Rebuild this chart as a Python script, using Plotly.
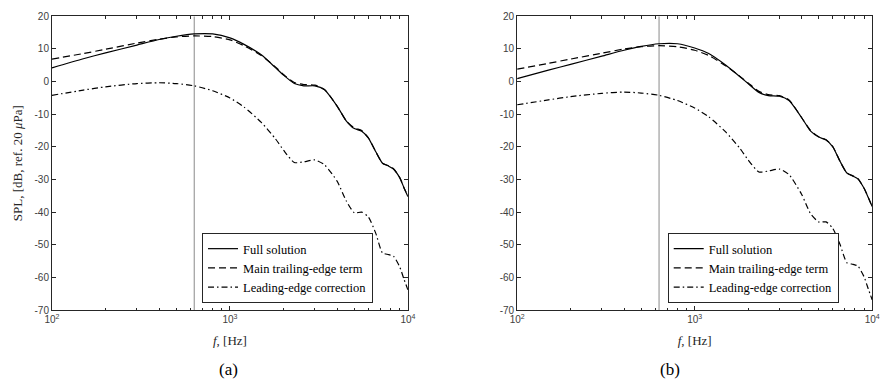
import plotly.graph_objects as go

# frequency grid (Hz), shared by all curves
FREQ = [100, 150, 200, 300, 400, 500, 630, 800, 1000, 1200, 1500, 1800, 2000, 2300,
        2600, 3000, 3400, 4000, 4500, 5000, 5500, 6000, 6600, 7200, 7800, 8300, 9000,
        9500, 10000]

# panel (a)
A_FULL = [4.2, 7.0, 8.8, 11.2, 12.9, 13.9, 14.6, 14.6, 13.4, 11.4, 8.2, 4.3, 2.0, -0.6,
          -1.3, -1.3, -2.5, -7.5, -12.0, -14.4, -15.2, -17.3, -21.5, -25.0, -25.9, -26.8,
          -29.5, -32.5, -35.2]
A_MAIN = [6.9, 8.6, 9.9, 11.8, 13.0, 13.7, 14.0, 13.8, 12.8, 11.0, 8.0, 4.5, 2.2, -0.3,
          -0.9, -1.1, -2.4, -7.5, -12.0, -14.2, -15.0, -17.2, -21.5, -25.0, -25.8, -26.7,
          -29.4, -32.5, -35.2]
A_LE = [-4.2, -2.6, -1.6, -0.6, -0.35, -0.6, -1.3, -2.8, -5.0, -7.8, -12.5, -17.5, -21.0,
        -24.8, -24.6, -24.0, -25.5, -30.5, -36.5, -40.2, -40.0, -41.5, -46.5, -52.5, -53.0,
        -53.5, -56.8, -60.5, -63.8]

# panel (b)
B_FULL = [0.9, 3.5, 5.3, 7.8, 9.6, 10.8, 11.6, 11.6, 10.3, 8.6, 5.0, 1.5, -0.6, -3.3,
          -4.3, -4.5, -5.8, -11.0, -15.2, -17.0, -17.9, -20.0, -24.5, -28.0, -29.0, -29.8,
          -32.7, -35.5, -38.3]
B_MAIN = [3.8, 5.6, 6.9, 8.7, 10.0, 10.7, 11.0, 10.7, 9.6, 8.0, 4.8, 1.6, -0.4, -3.0,
          -4.0, -4.3, -5.6, -11.0, -15.0, -16.9, -17.8, -19.9, -24.5, -28.0, -28.9, -29.7,
          -32.7, -35.5, -38.3]
B_LE = [-7.1, -5.6, -4.6, -3.6, -3.2, -3.5, -4.2, -5.8, -8.1, -10.8, -15.5, -20.5, -24.0,
        -27.7, -27.4, -26.8, -28.5, -34.5, -40.5, -43.0, -43.0, -45.0, -50.0, -55.5, -56.0,
        -56.5, -59.8, -63.5, -66.9]

MARKER_FREQ = 630  # vertical reference line
Y_RANGE = [-70, 20]

X_TICKS = [100, 1000, 10000]
X_TICKTEXT = ["10<sup>2</sup>", "10<sup>3</sup>", "10<sup>4</sup>"]
X_MINOR = [200, 300, 400, 500, 600, 700, 800, 900,
           2000, 3000, 4000, 5000, 6000, 7000, 8000, 9000]
Y_TICKS = [20, 10, 0, -10, -20, -30, -40, -50, -60, -70]

NAMES = ["Full solution", "Main trailing-edge term", "Leading-edge correction"]
DASHES = ["solid", "7px,4px", "6px,3px,1.5px,3px"]

SERIF = "Liberation Serif"
SANS = "Liberation Sans"
AX = "#262626"

panels = [
    ("x", "y", "legend", [A_FULL, A_MAIN, A_LE]),
    ("x2", "y2", "legend2", [B_FULL, B_MAIN, B_LE]),
]

fig = go.Figure()
for xa, ya, leg, series in panels:
    fig.add_trace(go.Scatter(
        x=[MARKER_FREQ, MARKER_FREQ], y=Y_RANGE, xaxis=xa, yaxis=ya,
        mode="lines", line=dict(color="#8a8a8a", width=1), showlegend=False,
        hoverinfo="skip",
    ))
    for name, dash, vals in zip(NAMES, DASHES, series):
        fig.add_trace(go.Scatter(
            x=FREQ, y=vals, name=name, xaxis=xa, yaxis=ya, legend=leg,
            mode="lines", line=dict(color="black", width=1.2, dash=dash, shape="spline",
                                    smoothing=0.6),
        ))

xcommon = dict(
    type="log", range=[2, 4], tickvals=X_TICKS, ticktext=X_TICKTEXT,
    ticks="inside", ticklen=4, tickcolor=AX, showline=True, linecolor=AX, linewidth=1,
    mirror="ticks", showgrid=False, zeroline=False, automargin=False,
    tickfont=dict(family=SANS, size=10, color="#404040"),
    minor=dict(tickvals=X_MINOR, ticks="inside", ticklen=2.5, tickcolor=AX, showgrid=False),
    title=dict(text="<i>f</i>, [Hz]", font=dict(family=SERIF, size=13, color=AX), standoff=11),
)
ycommon = dict(
    range=Y_RANGE, tickvals=Y_TICKS, ticktext=[str(v) for v in Y_TICKS],
    ticks="inside", ticklen=4, tickcolor=AX, showline=True, linecolor=AX, linewidth=1,
    mirror="ticks", showgrid=False, zeroline=False, automargin=False,
    tickfont=dict(family=SANS, size=10, color="#404040"),
)

legend_style = dict(xanchor="right", yanchor="bottom", y=0.221,
                    bgcolor="white", bordercolor=AX, borderwidth=1,
                    font=dict(family=SERIF, size=12.5, color="black"),
                    itemwidth=30, tracegroupgap=0)

fig.update_layout(
    width=881, height=389,
    template="none",
    plot_bgcolor="white", paper_bgcolor="white",
    margin=dict(l=0, r=0, t=0, b=0),
    xaxis=dict(domain=[0.059, 0.463], anchor="y", **xcommon),
    xaxis2=dict(domain=[0.587, 0.990], anchor="y2", **xcommon),
    yaxis=dict(domain=[0.203, 0.958], anchor="x",
               title=dict(text="SPL, [dB, ref. 20 <i>μ</i>Pa]",
                          font=dict(family=SERIF, size=13, color=AX), standoff=8),
               **ycommon),
    yaxis2=dict(domain=[0.203, 0.958], anchor="x2", **ycommon),
    legend=dict(x=0.4234, **legend_style),
    legend2=dict(x=0.952, **legend_style),
    annotations=[
        dict(text="(a)", x=0.246, y=0.049, xref="paper", yref="paper", showarrow=False,
             yanchor="middle", font=dict(family=SERIF, size=17, color="black")),
        dict(text="(b)", x=0.774, y=0.049, xref="paper", yref="paper", showarrow=False,
             yanchor="middle", font=dict(family=SERIF, size=17, color="black")),
    ],
)

fig.write_html("out.html", config={"displayModeBar": False},
               post_script="document.body.style.margin='0';")
